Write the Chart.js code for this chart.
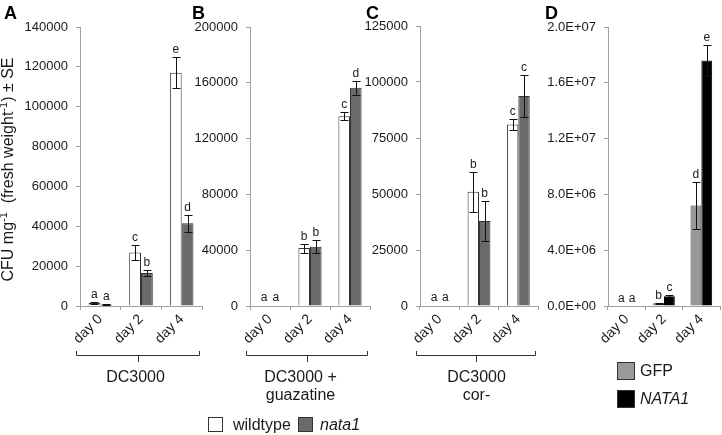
<!DOCTYPE html>
<html>
<head>
<meta charset="utf-8">
<script src="https://cdn.jsdelivr.net/npm/chart.js@4.4.1/dist/chart.umd.min.js"></script>
<style>
  body { margin: 0; background: #fff; width: 722px; height: 435px; position: relative; overflow: hidden; }
  canvas { position: absolute; top: 0; }
</style>
</head>
<body>
<canvas id="pA" width="210" height="435" style="left:0px"></canvas>
<canvas id="pB" width="190" height="435" style="left:185px"></canvas>
<canvas id="pC" width="190" height="435" style="left:355px"></canvas>
<canvas id="pD" width="182" height="435" style="left:540px"></canvas>
<script>
// categories
const days = ['day 0', 'day 2', 'day 4'];

// A: DC3000
const aWild = [1500, 26800, 117000];
const aWildErr = [300, 3800, 7800];
const aWildSig = ['a', 'c', 'e'];
const aNata = [700, 16500, 41500];
const aNataErr = [150, 1500, 4400];
const aNataSig = ['a', 'b', 'd'];

// B: DC3000 + guazatine
const bWild = [400, 41500, 136000];
const bWildErr = [0, 3200, 3000];
const bWildSig = ['a', 'b', 'c'];
const bNata = [400, 42500, 156500];
const bNataErr = [0, 4500, 5000];
const bNataSig = ['a', 'b', 'd'];

// C: DC3000 cor-
const cWild = [250, 51000, 81000];
const cWildErr = [0, 9000, 2300];
const cWildSig = ['a', 'b', 'c'];
const cNata = [250, 38000, 93800];
const cNataErr = [0, 9000, 9300];
const cNataSig = ['a', 'b', 'c'];

// D: GFP vs NATA1
const dGfp = [30000, 200000, 7200000];
const dGfpErr = [0, 40000, 1700000];
const dGfpSig = ['a', 'b', 'd'];
const dNata = [30000, 700000, 17600000];
const dNataErr = [0, 60000, 1100000];
const dNataSig = ['a', 'c', 'e'];

const FONT = '"Liberation Sans", Arial, sans-serif';
const AXIS = '#a0a0a0';
const INK = '#1a1a1a';
Chart.defaults.font.family = FONT;
Chart.defaults.color = INK;

const WILD = { name: 'wildtype', fill: '#ffffff', line: '#333333' };
const NATA = { name: 'nata1', fill: '#6a6a6a', line: '#333333', italic: true };
const GFP = { name: 'GFP', fill: '#999999', line: '#444444' };
const NATA1 = { name: 'NATA1', fill: '#000000', line: '#000000', italic: true };

const errorBars = {
  id: 'errorBars',
  afterDatasetsDraw(chart) {
    const ctx = chart.ctx, y = chart.scales.y;
    ctx.save();
    chart.data.datasets.forEach((ds, i) => {
      chart.getDatasetMeta(i).data.forEach((bar, j) => {
        const v = ds.data[j], e = ds.err[j];
        const x = Math.round(bar.x) + 0.5;
        const top = y.getPixelForValue(v + e);
        if (e > 0) {
          const bot = y.getPixelForValue(v - e);
          const t = Math.round(top) + 0.5, b = Math.round(bot) + 0.5;
          ctx.strokeStyle = '#111';
          ctx.lineWidth = 1;
          ctx.beginPath();
          ctx.moveTo(x, t); ctx.lineTo(x, b);
          ctx.moveTo(x - 4, t); ctx.lineTo(x + 4, t);
          ctx.moveTo(x - 4, b); ctx.lineTo(x + 4, b);
          ctx.stroke();
        }
        ctx.fillStyle = INK;
        ctx.font = '12px ' + FONT;
        ctx.textAlign = 'center';
        ctx.textBaseline = 'alphabetic';
        ctx.fillText(ds.sig[j], bar.x, Math.min(top, bar.y) - 4);
      });
    });
    ctx.restore();
  }
};

function box(ctx, x, y, s, item) {
  ctx.fillStyle = item.fill;
  ctx.fillRect(x, y, s, s);
  ctx.strokeStyle = '#333';
  ctx.lineWidth = 1;
  ctx.strokeRect(x + 0.5, y + 0.5, s - 1, s - 1);
}

function deco(p) {
  return {
    id: 'deco',
    afterDraw(chart) {
      const ctx = chart.ctx, a = chart.chartArea;
      ctx.save();
      ctx.translate(-p.ox, 0);
      ctx.fillStyle = '#000';
      ctx.font = 'bold 18px ' + FONT;
      ctx.textAlign = 'left';
      ctx.textBaseline = 'alphabetic';
      ctx.fillText(p.letter, p.letterX, 19);
      const L = a.left + p.ox, R = a.right + p.ox;
      if (p.group) {
        const l = Math.round(L - 4) + 0.5, r = Math.round(R - 3) + 0.5, m = Math.round((l + r) / 2) + 0.5;
        ctx.strokeStyle = '#333';
        ctx.lineWidth = 1;
        ctx.beginPath();
        ctx.moveTo(l, 351); ctx.lineTo(l, 355.5); ctx.lineTo(r, 355.5); ctx.lineTo(r, 351);
        ctx.moveTo(m, 355.5); ctx.lineTo(m, 362);
        ctx.stroke();
        ctx.fillStyle = INK;
        ctx.font = '16px ' + FONT;
        ctx.textAlign = 'center';
        ctx.textBaseline = 'middle';
        p.group.forEach((t, k) => ctx.fillText(t, m - p.gshift, 378 + 18 * k));
      }
      if (p.legend) {
        ctx.textAlign = 'left';
        ctx.textBaseline = 'middle';
        p.legend.forEach(it => {
          box(ctx, it.x, it.y, it.s, it.item);
          ctx.fillStyle = INK;
          ctx.font = (it.item.italic ? 'italic ' : '') + '16px ' + FONT;
          ctx.fillText(it.item.name, it.tx, it.y + it.s / 2 + 1);
        });
      }
      if (p.ytitle) {
        ctx.translate(9, (a.top + a.bottom) / 2 + 3);
        ctx.rotate(-Math.PI / 2);
        ctx.fillStyle = INK;
        ctx.textBaseline = 'middle';
        ctx.textAlign = 'left';
        const parts = [['CFU mg', 0], ['-1', 1], ['  (fresh weight', 0], ['-1', 1], [') \u00b1 SE', 0]];
        const fontOf = s => (s ? '11px ' : '16px ') + FONT;
        let w = 0;
        parts.forEach(([t, s]) => { ctx.font = fontOf(s); w += ctx.measureText(t).width; });
        let x = -w / 2;
        parts.forEach(([t, s]) => {
          ctx.font = fontOf(s);
          ctx.fillText(t, x, s ? -5 : 0);
          x += ctx.measureText(t).width;
        });
      }
      ctx.restore();
    }
  };
}

function panel(id, p) {
  new Chart(document.getElementById(id), {
    type: 'bar',
    data: {
      labels: days,
      datasets: p.series.map(s => ({
        label: s.item.name,
        data: s.values,
        err: s.err,
        sig: s.sig,
        backgroundColor: s.item.fill,
        borderColor: s.item.line,
        borderWidth: 1,
        categoryPercentage: 0.58,
        barPercentage: 1
      }))
    },
    options: {
      responsive: false,
      animation: false,
      layout: { padding: { top: p.top, right: p.right, left: 0, bottom: 0 } },
      plugins: { legend: { display: false }, tooltip: { enabled: false } },
      scales: {
        x: {
          grid: { offset: true, drawOnChartArea: false, tickLength: 4, color: AXIS },
          border: { color: AXIS },
          ticks: { font: { size: 14 }, minRotation: 45, maxRotation: 45, autoSkip: false, padding: 1, color: INK },
          afterFit: s => { s.height = 129; }
        },
        y: {
          min: 0,
          max: p.max,
          grid: { drawOnChartArea: false, tickLength: 4, color: AXIS },
          border: { color: AXIS },
          ticks: { stepSize: p.step, font: { size: 13 }, padding: 8, color: INK, callback: p.fmt },
          afterFit: s => { s.width = p.yw; }
        }
      }
    },
    plugins: [errorBars, deco(p)]
  });
}

const plain = v => String(v);
const sci = v => {
  const [m, e] = Number(v).toExponential(1).split('e');
  const n = parseInt(e, 10);
  return m + 'E' + (n < 0 ? '-' : '+') + String(Math.abs(n)).padStart(2, '0');
};

panel('pA', {
  ox: 0, yw: 80, top: 27, right: 8, max: 140000, step: 20000, fmt: plain,
  letter: 'A', letterX: 4, group: ['DC3000'], gshift: 3, ytitle: true,
  series: [
    { item: WILD, values: aWild, err: aWildErr, sig: aWildSig },
    { item: NATA, values: aNata, err: aNataErr, sig: aNataSig }
  ]
});
panel('pB', {
  ox: 185, yw: 65, top: 27, right: 5, max: 200000, step: 40000, fmt: plain,
  letter: 'B', letterX: 192, group: ['DC3000 +', 'guazatine'], gshift: 7,
  legend: [
    { item: WILD, x: 208, y: 417, s: 15, tx: 233 },
    { item: NATA, x: 298, y: 417, s: 15, tx: 320 }
  ],
  series: [
    { item: WILD, values: bWild, err: bWildErr, sig: bWildSig },
    { item: NATA, values: bNata, err: bNataErr, sig: bNataSig }
  ]
});
panel('pC', {
  ox: 355, yw: 65, top: 26, right: 7, max: 125000, step: 25000, fmt: plain,
  letter: 'C', letterX: 366, group: ['DC3000', 'cor-'], gshift: 0,
  series: [
    { item: WILD, values: cWild, err: cWildErr, sig: cWildSig },
    { item: NATA, values: cNata, err: cNataErr, sig: cNataSig }
  ]
});
panel('pD', {
  ox: 540, yw: 68, top: 27, right: 2, max: 20000000, step: 4000000, fmt: sci,
  letter: 'D', letterX: 545,
  legend: [
    { item: GFP, x: 617, y: 362, s: 18, tx: 640 },
    { item: NATA1, x: 617, y: 390, s: 18, tx: 640 }
  ],
  series: [
    { item: GFP, values: dGfp, err: dGfpErr, sig: dGfpSig },
    { item: NATA1, values: dNata, err: dNataErr, sig: dNataSig }
  ]
});
</script>
</body>
</html>
